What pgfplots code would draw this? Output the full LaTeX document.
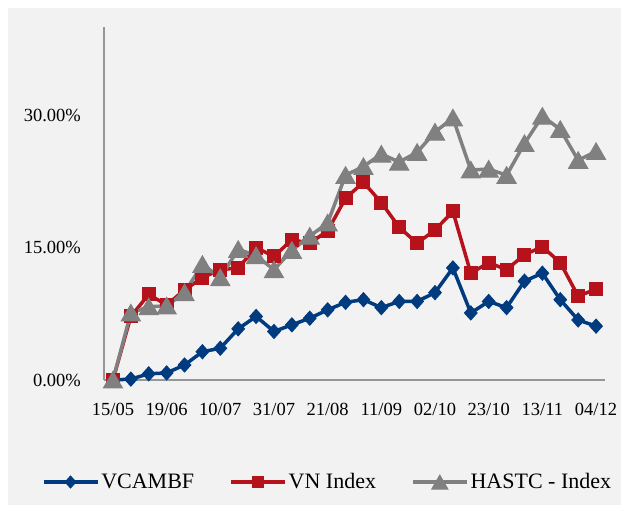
\documentclass[border=0pt]{standalone}
\usepackage{fontspec}
\setmainfont{Liberation Serif}
\usepackage{pgfplots}
\pgfplotsset{compat=1.18}
\usepackage{pgfplotstable}
\definecolor{cblue}{RGB}{0,59,128}
\definecolor{cred}{RGB}{181,18,27}
\definecolor{cgray}{RGB}{128,128,128}
\definecolor{bgc}{RGB}{242,242,242}
\definecolor{axgray}{RGB}{150,150,150}

\pgfplotstableread{
i v r h
0 0.0 0.0 0.0
1 0.1 7.2 7.6
2 0.7 9.7 8.3
3 0.8 8.5 8.4
4 1.7 10.2 9.9
5 3.2 11.6 13.1
6 3.6 12.5 11.6
7 5.8 12.7 14.8
8 7.2 15.0 14.1
9 5.5 14.0 12.5
10 6.25 15.9 14.7
11 7.0 15.5 16.3
12 7.95 16.9 17.8
13 8.8 20.6 23.2
14 9.1 22.4 24.2
15 8.2 20.1 25.6
16 8.9 17.3 24.7
17 8.9 15.5 25.8
18 9.9 17.0 28.1
19 12.7 19.1 29.7
20 7.6 12.1 23.8
21 8.9 13.3 23.9
22 8.2 12.5 23.2
23 11.2 14.2 26.8
24 12.1 15.1 29.9
25 9.1 13.3 28.4
26 6.8 9.5 24.9
27 6.1 10.3 25.9
}\data

\begin{document}
\begin{tikzpicture}
\fill[white] (-104pt,-125pt) rectangle (517pt,380pt);
\fill[bgc] (-96pt,-126pt) rectangle (518pt,372pt);
\begin{axis}[
  at={(0pt,0pt)}, anchor=south west,
  scale only axis, width=501pt, height=353pt,
  xmin=-0.5, xmax=27.5, ymin=0, ymax=40,
  clip=false,
  axis x line=bottom, axis y line=left,
  axis line style={draw=axgray, line width=1.8pt, -},
  major tick length=0pt,
  xtick={0,3,...,27},
  xticklabels={15/05,19/06,10/07,31/07,21/08,11/09,02/10,23/10,13/11,04/12},
  ytick={0,15,30},
  yticklabels={0.00\%,15.00\%,30.00\%},
  /pgf/number format/assume math mode=true,
  tick label style={font=\fontsize{18.5}{20}\selectfont, text=black},
  yticklabel style={anchor=east, inner sep=0pt, xshift=-23pt},
  xticklabel style={anchor=north, inner sep=0pt, yshift=-23pt},
  legend columns=3,
  legend style={draw=none, fill=none, at={(axis description cs:0.446,-0.289)}, anchor=center,
    font=\fontsize{22}{24}\selectfont, inner sep=0pt,
    /tikz/every even column/.append style={column sep=33pt}},
  legend image code/.code={\draw[mark repeat=2,mark phase=2,#1,/tikz/every mark/.append style={scale=0.85}] plot coordinates {(0pt,0pt) (27pt,0pt) (54pt,0pt)};},
]
\addplot[color=cblue, line width=3.5pt, mark=diamond*, mark size=7pt, mark options={line width=1pt, xscale=1.2}] table[x=i,y=v] {\data};
\addlegendentry{VCAMBF}
\addplot[color=cred, line width=3.5pt, mark=square*, mark size=6.5pt, mark options={line width=1pt}] table[x=i,y=r] {\data};
\addlegendentry{VN Index}
\addplot[color=cgray, line width=3.5pt, mark=triangle*, mark size=11pt, mark options={line width=1pt, yshift=-2.5pt}] table[x=i,y=h] {\data};
\addlegendentry{HASTC - Index}
\end{axis}
\pgfresetboundingbox
\path (-104pt,-125pt) rectangle (517pt,380pt);
\end{tikzpicture}
\end{document}
